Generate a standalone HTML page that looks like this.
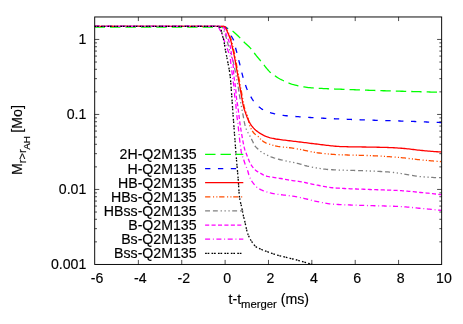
<!DOCTYPE html>
<html><head><meta charset="utf-8"><title>plot</title>
<style>html,body{margin:0;padding:0;background:#fff}svg{display:block}text{filter:grayscale(1);stroke:#000;stroke-width:0.16px;font-family:"Liberation Sans",Arial,Helvetica,sans-serif;fill:#000}</style></head><body>
<svg width="463" height="324" viewBox="0 0 463 324">
<rect width="463" height="324" fill="#fff"/>
<defs><clipPath id="c"><rect x="94.7" y="16.87" width="346.95" height="247.58"/></clipPath></defs>
<g fill="none" stroke-width="1.3" clip-path="url(#c)">
<path d="M94.60,27.20 L96.10,27.20 L97.59,27.20 L99.09,27.20 L100.59,27.20 L102.08,27.20 L103.58,27.20 L105.08,27.20 L106.58,27.20 L108.07,27.20 L109.57,27.20 L111.07,27.20 L112.56,27.20 L114.06,27.20 L115.56,27.20 L117.05,27.20 L118.55,27.20 L120.05,27.20 L121.55,27.20 L123.04,27.20 L124.54,27.20 L126.04,27.20 L127.53,27.20 L129.03,27.20 L130.53,27.20 L132.02,27.20 L133.52,27.20 L135.02,27.20 L136.52,27.20 L138.01,27.20 L139.51,27.20 L141.01,27.20 L142.50,27.20 L144.00,27.20 L145.50,27.20 L146.99,27.20 L148.49,27.20 L149.99,27.20 L151.49,27.20 L152.98,27.20 L154.48,27.20 L155.98,27.20 L157.47,27.20 L158.97,27.20 L160.47,27.20 L161.96,27.20 L163.46,27.20 L164.96,27.20 L166.46,27.20 L167.95,27.20 L169.45,27.20 L170.95,27.20 L172.44,27.20 L173.94,27.20 L175.44,27.20 L176.94,27.20 L178.43,27.20 L179.93,27.20 L181.43,27.20 L182.93,27.20 L184.42,27.20 L185.92,27.20 L187.42,27.20 L188.92,27.20 L190.41,27.20 L191.91,27.20 L193.41,27.20 L194.90,27.20 L196.40,27.20 L197.90,27.20 L199.40,27.20 L200.89,27.20 L202.39,27.20 L203.89,27.20 L205.38,27.20 L206.88,27.20 L208.38,27.20 L209.87,27.20 L211.37,27.20 L212.87,27.20 L214.36,27.20 L215.86,27.20 L217.36,27.20 L218.85,27.20 L220.35,27.20 L221.85,27.21 L223.35,27.27 L224.84,27.38 L226.27,27.76 L227.66,28.35 L229.02,28.98 L230.34,29.69 L231.62,30.48 L232.84,31.33 L234.01,32.25 L235.14,33.22 L236.25,34.24 L237.33,35.28 L238.41,36.33 L239.48,37.39 L240.54,38.44 L241.59,39.51 L242.63,40.59 L243.67,41.66 L244.73,42.72 L245.82,43.75 L246.93,44.77 L248.04,45.79 L249.13,46.82 L250.19,47.87 L251.20,48.96 L252.15,50.10 L253.03,51.31 L253.89,52.54 L254.79,53.74 L255.71,54.92 L256.65,56.08 L257.60,57.24 L258.56,58.40 L259.52,59.54 L260.48,60.69 L261.45,61.84 L262.40,62.99 L263.35,64.16 L264.28,65.35 L265.21,66.54 L266.14,67.73 L267.10,68.90 L268.07,70.03 L269.08,71.12 L270.13,72.16 L271.23,73.13 L272.41,74.04 L273.64,74.92 L274.89,75.76 L276.14,76.59 L277.39,77.42 L278.66,78.23 L279.95,78.97 L281.28,79.65 L282.64,80.28 L284.02,80.88 L285.39,81.48 L286.76,82.09 L288.14,82.70 L289.53,83.29 L290.93,83.84 L292.33,84.33 L293.75,84.74 L295.19,85.11 L296.64,85.47 L298.10,85.80 L299.56,86.12 L301.04,86.42 L302.52,86.70 L304.01,86.95 L305.49,87.18 L306.98,87.38 L308.47,87.55 L309.95,87.69 L311.44,87.82 L312.93,87.93 L314.42,88.04 L315.91,88.13 L317.41,88.22 L318.91,88.31 L320.41,88.39 L321.90,88.46 L323.40,88.54 L324.90,88.61 L326.39,88.68 L327.89,88.74 L329.38,88.81 L330.88,88.86 L332.37,88.92 L333.87,88.98 L335.37,89.03 L336.86,89.08 L338.36,89.14 L339.85,89.19 L341.35,89.25 L342.85,89.31 L344.34,89.37 L345.84,89.43 L347.33,89.48 L348.83,89.54 L350.32,89.60 L351.82,89.66 L353.32,89.72 L354.81,89.77 L356.31,89.83 L357.80,89.89 L359.30,89.94 L360.80,90.00 L362.29,90.05 L363.79,90.11 L365.28,90.16 L366.78,90.21 L368.28,90.26 L369.77,90.31 L371.27,90.36 L372.76,90.41 L374.26,90.46 L375.76,90.50 L377.25,90.55 L378.75,90.59 L380.25,90.64 L381.74,90.68 L383.24,90.73 L384.74,90.77 L386.23,90.81 L387.73,90.86 L389.22,90.90 L390.72,90.94 L392.22,90.98 L393.71,91.02 L395.21,91.07 L396.71,91.11 L398.20,91.15 L399.70,91.19 L401.20,91.23 L402.69,91.27 L404.19,91.32 L405.68,91.36 L407.18,91.40 L408.68,91.44 L410.17,91.48 L411.67,91.52 L413.17,91.56 L414.66,91.60 L416.16,91.64 L417.66,91.68 L419.15,91.72 L420.65,91.76 L422.15,91.80 L423.64,91.84 L425.14,91.88 L426.63,91.92 L428.13,91.96 L429.63,92.00 L431.12,92.04 L432.62,92.07 L434.12,92.11 L435.61,92.15 L437.11,92.19 L438.61,92.23 L440.10,92.26 L441.60,92.30" stroke="#00ff00" stroke-dasharray="10.40,5.03"/>
<path d="M94.60,26.30 L96.09,26.30 L97.59,26.30 L99.08,26.30 L100.58,26.30 L102.07,26.30 L103.57,26.30 L105.06,26.30 L106.56,26.30 L108.05,26.30 L109.55,26.30 L111.04,26.30 L112.53,26.30 L114.03,26.30 L115.52,26.30 L117.02,26.30 L118.51,26.30 L120.01,26.30 L121.50,26.30 L123.00,26.30 L124.49,26.30 L125.98,26.30 L127.48,26.30 L128.97,26.30 L130.47,26.30 L131.96,26.30 L133.46,26.30 L134.95,26.30 L136.45,26.30 L137.94,26.30 L139.44,26.30 L140.93,26.30 L142.42,26.30 L143.92,26.30 L145.41,26.30 L146.91,26.30 L148.40,26.30 L149.90,26.30 L151.39,26.30 L152.89,26.30 L154.38,26.30 L155.87,26.30 L157.37,26.30 L158.86,26.30 L160.36,26.30 L161.85,26.30 L163.35,26.30 L164.85,26.30 L166.34,26.30 L167.84,26.30 L169.34,26.30 L170.84,26.30 L172.34,26.30 L173.84,26.30 L175.34,26.30 L176.84,26.30 L178.34,26.30 L179.84,26.30 L181.34,26.30 L182.84,26.30 L184.34,26.30 L185.84,26.30 L187.34,26.30 L188.84,26.30 L190.33,26.30 L191.83,26.30 L193.33,26.30 L194.83,26.30 L196.33,26.30 L197.82,26.30 L199.32,26.30 L200.82,26.30 L202.31,26.30 L203.81,26.30 L205.30,26.30 L206.79,26.30 L208.28,26.30 L209.77,26.30 L211.26,26.30 L212.75,26.30 L214.24,26.30 L215.72,26.30 L217.21,26.30 L218.69,26.30 L220.17,26.30 L221.65,26.30 L223.13,26.30 L224.61,26.54 L225.89,27.30 L226.85,28.44 L227.66,29.69 L228.40,31.00 L229.10,32.31 L229.81,33.63 L230.57,34.92 L231.36,36.19 L232.12,37.48 L232.89,38.78 L233.55,40.11 L234.02,41.50 L234.39,42.94 L234.71,44.41 L235.03,45.89 L235.39,47.34 L235.78,48.78 L236.19,50.22 L236.60,51.66 L236.99,53.10 L237.37,54.55 L237.74,55.99 L238.10,57.44 L238.46,58.90 L238.81,60.35 L239.17,61.80 L239.53,63.25 L239.88,64.70 L240.23,66.16 L240.58,67.61 L240.93,69.07 L241.28,70.52 L241.64,71.97 L242.01,73.42 L242.39,74.86 L242.78,76.30 L243.19,77.74 L243.61,79.17 L244.04,80.61 L244.48,82.03 L244.94,83.46 L245.42,84.87 L245.91,86.29 L246.42,87.69 L246.96,89.09 L247.54,90.46 L248.17,91.81 L248.84,93.15 L249.55,94.47 L250.29,95.77 L251.04,97.06 L251.80,98.35 L252.60,99.62 L253.43,100.86 L254.33,102.05 L255.29,103.20 L256.30,104.30 L257.36,105.36 L258.45,106.38 L259.58,107.37 L260.77,108.29 L261.99,109.12 L263.28,109.88 L264.62,110.58 L265.98,111.19 L267.36,111.73 L268.78,112.21 L270.22,112.65 L271.66,113.06 L273.10,113.46 L274.55,113.84 L276.00,114.19 L277.46,114.50 L278.93,114.76 L280.40,115.01 L281.88,115.23 L283.37,115.43 L284.85,115.61 L286.34,115.77 L287.82,115.91 L289.31,116.05 L290.80,116.17 L292.29,116.29 L293.78,116.40 L295.27,116.51 L296.76,116.62 L298.25,116.72 L299.75,116.82 L301.24,116.93 L302.73,117.03 L304.22,117.12 L305.71,117.22 L307.20,117.32 L308.69,117.41 L310.18,117.50 L311.68,117.59 L313.17,117.68 L314.66,117.77 L316.15,117.85 L317.65,117.93 L319.14,118.01 L320.63,118.09 L322.12,118.17 L323.62,118.25 L325.11,118.32 L326.60,118.39 L328.09,118.46 L329.59,118.53 L331.08,118.60 L332.57,118.67 L334.06,118.74 L335.56,118.81 L337.05,118.87 L338.54,118.94 L340.04,119.00 L341.53,119.06 L343.02,119.12 L344.52,119.18 L346.01,119.25 L347.50,119.30 L349.00,119.36 L350.49,119.42 L351.98,119.48 L353.48,119.53 L354.97,119.59 L356.46,119.65 L357.96,119.70 L359.45,119.75 L360.95,119.81 L362.44,119.86 L363.93,119.91 L365.43,119.96 L366.92,120.01 L368.41,120.06 L369.91,120.11 L371.40,120.15 L372.89,120.20 L374.39,120.24 L375.88,120.29 L377.38,120.33 L378.87,120.37 L380.36,120.41 L381.86,120.46 L383.35,120.50 L384.85,120.54 L386.34,120.58 L387.83,120.63 L389.33,120.67 L390.82,120.71 L392.32,120.76 L393.81,120.80 L395.30,120.85 L396.80,120.89 L398.29,120.94 L399.78,120.99 L401.28,121.04 L402.77,121.09 L404.27,121.15 L405.76,121.20 L407.25,121.25 L408.75,121.30 L410.24,121.36 L411.73,121.41 L413.23,121.47 L414.72,121.52 L416.21,121.58 L417.71,121.63 L419.20,121.69 L420.69,121.75 L422.19,121.81 L423.68,121.86 L425.17,121.92 L426.67,121.98 L428.16,122.04 L429.65,122.10 L431.15,122.16 L432.64,122.22 L434.13,122.29 L435.63,122.35 L437.12,122.41 L438.61,122.47 L440.11,122.54 L441.60,122.60" stroke="#0000ff" stroke-dasharray="5.30,7.56"/>
<path d="M94.60,26.30 L96.10,26.30 L97.60,26.30 L99.09,26.30 L100.59,26.30 L102.09,26.30 L103.59,26.30 L105.08,26.30 L106.58,26.30 L108.08,26.30 L109.58,26.30 L111.08,26.30 L112.57,26.30 L114.07,26.30 L115.57,26.30 L117.07,26.30 L118.56,26.30 L120.06,26.30 L121.56,26.30 L123.06,26.30 L124.56,26.30 L126.05,26.30 L127.55,26.30 L129.05,26.30 L130.55,26.30 L132.05,26.30 L133.54,26.30 L135.04,26.30 L136.54,26.30 L138.04,26.30 L139.53,26.30 L141.03,26.30 L142.53,26.30 L144.03,26.30 L145.53,26.30 L147.02,26.30 L148.52,26.30 L150.02,26.30 L151.52,26.30 L153.01,26.30 L154.51,26.30 L156.01,26.30 L157.51,26.30 L159.01,26.30 L160.50,26.30 L162.00,26.30 L163.50,26.30 L165.00,26.30 L166.50,26.30 L168.00,26.30 L169.50,26.30 L171.00,26.30 L172.50,26.30 L174.00,26.30 L175.50,26.30 L177.00,26.30 L178.50,26.30 L180.00,26.30 L181.50,26.30 L183.00,26.30 L184.50,26.30 L186.00,26.30 L187.50,26.30 L189.00,26.30 L190.50,26.30 L192.00,26.30 L193.50,26.30 L195.00,26.30 L196.50,26.30 L197.99,26.30 L199.49,26.30 L200.99,26.30 L202.49,26.30 L203.99,26.30 L205.48,26.30 L206.98,26.30 L208.48,26.30 L209.97,26.30 L211.47,26.30 L212.96,26.30 L214.46,26.30 L215.95,26.30 L217.44,26.30 L218.93,26.30 L220.43,26.30 L221.92,26.30 L223.43,26.35 L224.89,26.60 L226.06,27.49 L226.81,28.81 L227.40,30.19 L227.96,31.58 L228.56,32.95 L229.15,34.33 L229.73,35.71 L230.27,37.11 L230.79,38.51 L231.28,39.93 L231.70,41.37 L232.07,42.81 L232.40,44.28 L232.71,45.74 L233.02,47.21 L233.35,48.67 L233.69,50.13 L234.04,51.59 L234.37,53.05 L234.69,54.51 L235.00,55.98 L235.28,57.45 L235.55,58.92 L235.81,60.40 L236.06,61.87 L236.32,63.35 L236.58,64.82 L236.84,66.30 L237.11,67.77 L237.38,69.25 L237.64,70.72 L237.91,72.19 L238.18,73.67 L238.44,75.14 L238.71,76.62 L238.98,78.09 L239.24,79.56 L239.51,81.04 L239.78,82.51 L240.04,83.99 L240.31,85.46 L240.58,86.93 L240.84,88.41 L241.11,89.88 L241.38,91.36 L241.64,92.83 L241.91,94.30 L242.18,95.78 L242.45,97.25 L242.70,98.73 L242.95,100.21 L243.20,101.69 L243.46,103.17 L243.75,104.64 L244.06,106.10 L244.42,107.54 L244.85,108.97 L245.33,110.40 L245.83,111.81 L246.33,113.23 L246.90,114.62 L247.47,116.02 L247.95,117.43 L248.27,118.88 L248.49,120.36 L248.70,121.85 L249.00,123.31 L249.42,124.75 L249.94,126.16 L250.51,127.55 L251.12,128.92 L251.84,130.24 L252.64,131.50 L253.56,132.70 L254.59,133.76 L255.78,134.66 L257.03,135.53 L258.18,136.47 L259.21,137.57 L260.20,138.70 L261.27,139.74 L262.41,140.73 L263.62,141.65 L264.87,142.43 L266.20,143.06 L267.58,143.62 L269.02,144.12 L270.47,144.57 L271.91,144.98 L273.36,145.35 L274.81,145.71 L276.28,146.04 L277.75,146.34 L279.23,146.60 L280.71,146.83 L282.19,147.01 L283.68,147.17 L285.17,147.31 L286.66,147.45 L288.16,147.59 L289.65,147.76 L291.13,147.95 L292.61,148.16 L294.09,148.39 L295.57,148.63 L297.05,148.88 L298.53,149.14 L300.00,149.40 L301.47,149.67 L302.94,149.97 L304.41,150.29 L305.87,150.61 L307.34,150.94 L308.80,151.27 L310.27,151.59 L311.74,151.89 L313.21,152.16 L314.68,152.41 L316.16,152.62 L317.64,152.81 L319.12,153.00 L320.61,153.18 L322.10,153.35 L323.59,153.52 L325.08,153.68 L326.57,153.83 L328.06,153.97 L329.56,154.11 L331.05,154.23 L332.55,154.35 L334.04,154.45 L335.54,154.55 L337.03,154.63 L338.53,154.71 L340.02,154.77 L341.52,154.83 L343.01,154.88 L344.51,154.93 L346.01,154.97 L347.50,155.01 L349.00,155.05 L350.50,155.09 L352.00,155.12 L353.50,155.16 L354.99,155.19 L356.49,155.22 L357.99,155.25 L359.49,155.29 L360.99,155.32 L362.48,155.36 L363.98,155.40 L365.48,155.44 L366.98,155.49 L368.47,155.54 L369.97,155.60 L371.47,155.66 L372.96,155.73 L374.46,155.80 L375.95,155.87 L377.45,155.95 L378.95,156.03 L380.44,156.12 L381.94,156.21 L383.43,156.31 L384.93,156.40 L386.42,156.50 L387.92,156.61 L389.41,156.71 L390.91,156.82 L392.40,156.94 L393.89,157.05 L395.39,157.17 L396.88,157.29 L398.37,157.41 L399.86,157.53 L401.35,157.66 L402.84,157.81 L404.33,157.97 L405.82,158.13 L407.31,158.30 L408.80,158.48 L410.29,158.66 L411.77,158.84 L413.26,159.03 L414.75,159.21 L416.24,159.38 L417.72,159.55 L419.21,159.72 L420.70,159.87 L422.19,160.02 L423.68,160.16 L425.18,160.29 L426.67,160.43 L428.16,160.56 L429.65,160.68 L431.14,160.81 L432.64,160.93 L434.13,161.05 L435.62,161.17 L437.12,161.28 L438.61,161.39 L440.11,161.50 L441.60,161.60" stroke="#ff4d00" stroke-dasharray="5.30,2.60,1.10,2.20,1.10,1.75"/>
<path d="M94.60,26.30 L96.10,26.30 L97.59,26.30 L99.09,26.30 L100.59,26.30 L102.08,26.30 L103.58,26.30 L105.08,26.30 L106.57,26.30 L108.07,26.30 L109.57,26.30 L111.06,26.30 L112.56,26.30 L114.06,26.30 L115.55,26.30 L117.05,26.30 L118.55,26.30 L120.05,26.30 L121.54,26.30 L123.04,26.30 L124.54,26.30 L126.03,26.30 L127.53,26.30 L129.03,26.30 L130.52,26.30 L132.02,26.30 L133.52,26.30 L135.01,26.30 L136.51,26.30 L138.01,26.30 L139.50,26.30 L141.00,26.30 L142.50,26.30 L143.99,26.30 L145.49,26.30 L146.99,26.30 L148.48,26.30 L149.98,26.30 L151.48,26.30 L152.97,26.30 L154.47,26.30 L155.97,26.30 L157.46,26.30 L158.96,26.30 L160.46,26.30 L161.96,26.30 L163.45,26.30 L164.95,26.30 L166.45,26.30 L167.95,26.30 L169.45,26.30 L170.95,26.30 L172.45,26.30 L173.95,26.30 L175.45,26.30 L176.96,26.30 L178.46,26.30 L179.96,26.30 L181.46,26.30 L182.96,26.30 L184.46,26.30 L185.97,26.30 L187.47,26.30 L188.97,26.30 L190.47,26.30 L191.97,26.30 L193.47,26.30 L194.97,26.30 L196.47,26.30 L197.97,26.30 L199.47,26.30 L200.96,26.30 L202.46,26.30 L203.96,26.30 L205.45,26.30 L206.95,26.30 L208.44,26.30 L209.93,26.30 L211.42,26.30 L212.91,26.30 L214.40,26.30 L215.89,26.30 L217.38,26.30 L218.86,26.30 L220.35,26.30 L221.83,26.30 L223.33,26.38 L224.72,26.88 L225.69,28.00 L226.36,29.36 L226.92,30.75 L227.50,32.13 L228.10,33.50 L228.69,34.88 L229.25,36.26 L229.78,37.66 L230.29,39.07 L230.75,40.50 L231.15,41.93 L231.50,43.39 L231.82,44.85 L232.13,46.32 L232.45,47.78 L232.79,49.24 L233.13,50.70 L233.47,52.16 L233.80,53.62 L234.11,55.08 L234.41,56.55 L234.68,58.02 L234.95,59.49 L235.21,60.96 L235.46,62.44 L235.72,63.92 L235.98,65.39 L236.25,66.86 L236.51,68.34 L236.78,69.81 L237.05,71.28 L237.31,72.75 L237.58,74.23 L237.85,75.70 L238.11,77.17 L238.38,78.65 L238.65,80.12 L238.91,81.59 L239.18,83.06 L239.44,84.54 L239.71,86.01 L239.98,87.48 L240.24,88.96 L240.51,90.43 L240.77,91.90 L241.04,93.37 L241.31,94.85 L241.58,96.32 L241.84,97.79 L242.10,99.27 L242.34,100.75 L242.60,102.23 L242.86,103.70 L243.16,105.17 L243.48,106.62 L243.87,108.06 L244.32,109.49 L244.81,110.91 L245.30,112.32 L245.79,113.74 L246.29,115.15 L246.82,116.56 L247.38,117.94 L247.98,119.31 L248.62,120.67 L249.31,122.00 L250.06,123.29 L250.86,124.55 L251.73,125.79 L252.66,126.98 L253.63,128.11 L254.66,129.17 L255.78,130.17 L256.96,131.12 L258.16,132.01 L259.38,132.87 L260.65,133.68 L261.95,134.44 L263.26,135.13 L264.61,135.79 L265.98,136.41 L267.38,136.96 L268.79,137.42 L270.23,137.81 L271.69,138.16 L273.16,138.47 L274.64,138.76 L276.11,139.02 L277.59,139.26 L279.07,139.47 L280.55,139.67 L282.04,139.86 L283.52,140.04 L285.01,140.23 L286.49,140.41 L287.98,140.59 L289.47,140.77 L290.95,140.95 L292.44,141.12 L293.93,141.29 L295.41,141.46 L296.90,141.63 L298.39,141.81 L299.87,141.98 L301.36,142.17 L302.84,142.35 L304.33,142.54 L305.81,142.73 L307.30,142.93 L308.78,143.12 L310.27,143.31 L311.75,143.49 L313.24,143.68 L314.72,143.85 L316.21,144.02 L317.70,144.20 L319.19,144.37 L320.67,144.56 L322.16,144.74 L323.65,144.93 L325.14,145.11 L326.62,145.30 L328.11,145.47 L329.60,145.65 L331.09,145.81 L332.58,145.96 L334.07,146.11 L335.56,146.24 L337.05,146.35 L338.54,146.45 L340.04,146.53 L341.53,146.59 L343.02,146.64 L344.51,146.68 L346.01,146.71 L347.50,146.75 L349.00,146.78 L350.50,146.81 L351.99,146.83 L353.49,146.85 L354.99,146.88 L356.48,146.90 L357.98,146.92 L359.48,146.94 L360.98,146.96 L362.47,146.98 L363.97,147.00 L365.47,147.02 L366.97,147.05 L368.46,147.07 L369.96,147.10 L371.46,147.13 L372.95,147.15 L374.45,147.18 L375.95,147.20 L377.44,147.23 L378.94,147.26 L380.44,147.29 L381.93,147.32 L383.43,147.36 L384.93,147.40 L386.42,147.44 L387.92,147.50 L389.41,147.55 L390.91,147.62 L392.41,147.69 L393.90,147.77 L395.40,147.85 L396.89,147.94 L398.38,148.03 L399.88,148.13 L401.37,148.24 L402.86,148.37 L404.35,148.51 L405.84,148.66 L407.33,148.82 L408.82,148.97 L410.30,149.13 L411.79,149.30 L413.28,149.48 L414.76,149.66 L416.25,149.85 L417.74,150.03 L419.22,150.21 L420.71,150.37 L422.20,150.52 L423.69,150.66 L425.18,150.79 L426.67,150.93 L428.16,151.05 L429.65,151.18 L431.14,151.30 L432.63,151.42 L434.13,151.53 L435.62,151.64 L437.11,151.74 L438.61,151.83 L440.10,151.92 L441.60,152.00" stroke="#ff0000"/>
<path d="M94.60,26.30 L96.10,26.30 L97.60,26.30 L99.10,26.30 L100.60,26.30 L102.10,26.30 L103.60,26.30 L105.10,26.30 L106.60,26.30 L108.10,26.30 L109.60,26.30 L111.10,26.30 L112.60,26.30 L114.10,26.30 L115.60,26.30 L117.10,26.30 L118.59,26.30 L120.09,26.30 L121.59,26.30 L123.09,26.30 L124.59,26.30 L126.09,26.30 L127.59,26.30 L129.09,26.30 L130.59,26.30 L132.09,26.30 L133.59,26.30 L135.09,26.30 L136.59,26.30 L138.09,26.30 L139.59,26.30 L141.09,26.30 L142.59,26.30 L144.09,26.30 L145.59,26.30 L147.09,26.30 L148.59,26.30 L150.09,26.30 L151.59,26.30 L153.09,26.30 L154.59,26.30 L156.09,26.30 L157.59,26.30 L159.09,26.30 L160.59,26.30 L162.09,26.30 L163.59,26.30 L165.09,26.30 L166.59,26.30 L168.09,26.30 L169.59,26.30 L171.10,26.30 L172.60,26.30 L174.10,26.30 L175.60,26.30 L177.11,26.30 L178.61,26.30 L180.11,26.30 L181.62,26.30 L183.12,26.30 L184.62,26.30 L186.13,26.30 L187.63,26.30 L189.13,26.30 L190.63,26.30 L192.14,26.30 L193.64,26.30 L195.14,26.30 L196.64,26.30 L198.14,26.30 L199.64,26.30 L201.14,26.30 L202.64,26.30 L204.14,26.30 L205.64,26.30 L207.13,26.30 L208.63,26.30 L210.12,26.30 L211.62,26.30 L213.11,26.30 L214.60,26.30 L216.10,26.30 L217.59,26.30 L219.08,26.30 L220.60,26.40 L221.96,26.85 L222.93,28.02 L223.49,29.40 L223.95,30.87 L224.45,32.28 L224.94,33.70 L225.41,35.13 L225.88,36.55 L226.34,37.98 L226.76,39.42 L227.09,40.88 L227.44,42.34 L227.84,43.78 L228.27,45.22 L228.67,46.67 L229.03,48.12 L229.39,49.58 L229.79,51.02 L230.20,52.47 L230.63,53.90 L231.07,55.34 L231.52,56.77 L232.02,58.18 L232.54,59.59 L233.00,61.02 L233.39,62.46 L233.73,63.92 L234.05,65.39 L234.36,66.86 L234.67,68.33 L234.98,69.79 L235.28,71.26 L235.57,72.74 L235.86,74.21 L236.14,75.68 L236.42,77.15 L236.69,78.63 L236.96,80.10 L237.22,81.58 L237.49,83.06 L237.75,84.53 L238.01,86.01 L238.26,87.49 L238.51,88.97 L238.74,90.45 L238.96,91.93 L239.19,93.41 L239.42,94.90 L239.66,96.38 L239.91,97.85 L240.17,99.33 L240.43,100.81 L240.69,102.29 L240.95,103.76 L241.20,105.24 L241.45,106.72 L241.70,108.20 L241.97,109.67 L242.26,111.15 L242.56,112.62 L242.86,114.08 L243.15,115.56 L243.42,117.03 L243.67,118.51 L243.92,119.99 L244.19,121.47 L244.49,122.93 L244.83,124.40 L245.20,125.85 L245.63,127.30 L246.10,128.71 L246.68,130.09 L247.35,131.44 L248.05,132.76 L248.83,134.04 L249.61,135.33 L250.30,136.66 L250.96,138.01 L251.64,139.35 L252.34,140.67 L252.97,142.04 L253.56,143.45 L254.19,144.80 L254.98,146.02 L255.98,147.13 L257.10,148.17 L258.21,149.19 L259.31,150.22 L260.45,151.21 L261.64,152.10 L262.90,152.90 L264.20,153.65 L265.54,154.35 L266.90,155.00 L268.26,155.62 L269.64,156.20 L271.03,156.77 L272.44,157.30 L273.86,157.81 L275.29,158.28 L276.72,158.72 L278.15,159.12 L279.60,159.50 L281.06,159.85 L282.52,160.18 L283.99,160.51 L285.46,160.82 L286.93,161.13 L288.40,161.45 L289.86,161.77 L291.33,162.09 L292.79,162.40 L294.26,162.71 L295.73,163.02 L297.20,163.34 L298.66,163.67 L300.11,164.03 L301.56,164.43 L303.00,164.88 L304.43,165.33 L305.87,165.75 L307.32,166.10 L308.78,166.41 L310.25,166.72 L311.71,167.02 L313.19,167.31 L314.67,167.60 L316.15,167.87 L317.63,168.13 L319.12,168.38 L320.60,168.61 L322.09,168.83 L323.58,169.02 L325.07,169.20 L326.56,169.35 L328.05,169.48 L329.54,169.59 L331.03,169.68 L332.53,169.76 L334.02,169.84 L335.51,169.90 L337.01,169.97 L338.50,170.03 L340.00,170.09 L341.50,170.14 L343.00,170.19 L344.50,170.23 L346.00,170.28 L347.50,170.32 L349.00,170.36 L350.50,170.40 L352.00,170.44 L353.50,170.47 L355.00,170.51 L356.51,170.55 L358.01,170.59 L359.51,170.63 L361.01,170.68 L362.51,170.72 L364.01,170.77 L365.51,170.82 L367.01,170.88 L368.51,170.94 L370.01,171.00 L371.51,171.07 L373.01,171.13 L374.51,171.20 L376.01,171.27 L377.51,171.34 L379.00,171.42 L380.50,171.50 L382.00,171.58 L383.50,171.67 L385.00,171.76 L386.49,171.86 L387.99,171.97 L389.48,172.08 L390.97,172.20 L392.46,172.33 L393.95,172.50 L395.43,172.68 L396.92,172.89 L398.40,173.11 L399.89,173.34 L401.37,173.59 L402.85,173.83 L404.33,174.08 L405.81,174.33 L407.29,174.58 L408.78,174.81 L410.26,175.04 L411.74,175.28 L413.22,175.53 L414.70,175.79 L416.18,176.04 L417.67,176.28 L419.15,176.50 L420.64,176.68 L422.12,176.81 L423.61,176.92 L425.11,177.02 L426.60,177.12 L428.09,177.22 L429.59,177.31 L431.09,177.39 L432.58,177.47 L434.08,177.54 L435.58,177.59 L437.08,177.64 L438.59,177.67 L440.09,177.69 L441.60,177.70" stroke="#808080" stroke-dasharray="4.90,2.90,4.90,2.80,1.30,2.60,1.30,2.60,1.30,2.50"/>
<path d="M94.60,26.30 L96.10,26.30 L97.60,26.30 L99.10,26.30 L100.60,26.30 L102.09,26.30 L103.59,26.30 L105.09,26.30 L106.59,26.30 L108.09,26.30 L109.59,26.30 L111.09,26.30 L112.59,26.30 L114.09,26.30 L115.59,26.30 L117.08,26.30 L118.58,26.30 L120.08,26.30 L121.58,26.30 L123.08,26.30 L124.58,26.30 L126.08,26.30 L127.58,26.30 L129.08,26.30 L130.57,26.30 L132.07,26.30 L133.57,26.30 L135.07,26.30 L136.57,26.30 L138.07,26.30 L139.57,26.30 L141.07,26.30 L142.57,26.30 L144.07,26.30 L145.56,26.30 L147.06,26.30 L148.56,26.30 L150.06,26.30 L151.56,26.30 L153.06,26.30 L154.56,26.30 L156.06,26.30 L157.56,26.30 L159.06,26.30 L160.55,26.30 L162.05,26.30 L163.56,26.30 L165.06,26.30 L166.56,26.30 L168.07,26.30 L169.57,26.30 L171.08,26.30 L172.58,26.30 L174.09,26.30 L175.60,26.30 L177.10,26.30 L178.61,26.30 L180.12,26.30 L181.63,26.30 L183.13,26.30 L184.64,26.30 L186.15,26.30 L187.66,26.30 L189.16,26.30 L190.67,26.30 L192.17,26.30 L193.68,26.30 L195.18,26.30 L196.68,26.30 L198.19,26.30 L199.69,26.30 L201.19,26.30 L202.68,26.30 L204.18,26.30 L205.67,26.30 L207.17,26.30 L208.66,26.30 L210.15,26.30 L211.64,26.30 L213.12,26.30 L214.61,26.30 L216.09,26.30 L217.57,26.30 L219.05,26.30 L220.52,26.30 L222.01,26.46 L223.35,27.12 L224.17,28.32 L224.71,29.76 L225.22,31.17 L225.68,32.60 L226.13,34.03 L226.54,35.48 L227.00,36.90 L227.67,38.24 L228.33,39.59 L228.84,40.99 L229.28,42.43 L229.69,43.87 L230.05,45.33 L230.35,46.80 L230.60,48.27 L230.84,49.75 L231.06,51.24 L231.28,52.72 L231.50,54.20 L231.76,55.68 L232.08,57.15 L232.39,58.62 L232.67,60.09 L232.86,61.57 L233.00,63.06 L233.12,64.56 L233.23,66.05 L233.34,67.55 L233.44,69.04 L233.52,70.54 L233.61,72.04 L233.70,73.54 L233.82,75.03 L233.95,76.52 L234.15,78.01 L234.37,79.49 L234.60,80.97 L234.81,82.46 L235.04,83.94 L235.26,85.42 L235.47,86.90 L235.64,88.39 L235.79,89.88 L235.92,91.38 L236.04,92.87 L236.18,94.37 L236.30,95.86 L236.43,97.36 L236.57,98.85 L236.74,100.33 L237.00,101.81 L237.30,103.28 L237.59,104.75 L237.82,106.23 L238.02,107.72 L238.20,109.20 L238.38,110.69 L238.56,112.18 L238.75,113.67 L238.94,115.16 L239.13,116.64 L239.32,118.13 L239.49,119.62 L239.66,121.11 L239.85,122.60 L240.05,124.08 L240.27,125.56 L240.50,127.04 L240.74,128.52 L240.98,130.00 L241.22,131.48 L241.47,132.96 L241.72,134.44 L241.97,135.92 L242.24,137.39 L242.50,138.87 L242.78,140.34 L243.06,141.81 L243.35,143.29 L243.64,144.76 L243.94,146.23 L244.27,147.70 L244.64,149.14 L245.09,150.56 L245.62,151.96 L246.18,153.36 L246.72,154.76 L247.25,156.17 L247.78,157.57 L248.33,158.96 L248.88,160.36 L249.47,161.74 L250.13,163.08 L250.86,164.41 L251.64,165.68 L252.51,166.89 L253.46,168.06 L254.50,169.19 L255.59,170.22 L256.74,171.12 L258.01,171.90 L259.34,172.62 L260.68,173.32 L261.98,174.09 L263.28,174.90 L264.61,175.56 L266.00,175.99 L267.44,176.33 L268.92,176.62 L270.42,176.87 L271.92,177.12 L273.40,177.37 L274.88,177.61 L276.36,177.84 L277.84,178.06 L279.33,178.28 L280.81,178.50 L282.29,178.75 L283.76,179.02 L285.23,179.31 L286.70,179.60 L288.18,179.88 L289.65,180.14 L291.13,180.37 L292.62,180.58 L294.10,180.78 L295.59,180.97 L297.08,181.17 L298.56,181.38 L300.04,181.61 L301.52,181.86 L302.99,182.14 L304.46,182.44 L305.92,182.75 L307.39,183.07 L308.85,183.39 L310.32,183.72 L311.78,184.04 L313.25,184.35 L314.72,184.65 L316.19,184.94 L317.66,185.22 L319.14,185.51 L320.61,185.81 L322.09,186.11 L323.56,186.40 L325.04,186.68 L326.51,186.95 L327.99,187.19 L329.47,187.41 L330.96,187.60 L332.44,187.75 L333.93,187.87 L335.42,187.98 L336.91,188.08 L338.40,188.18 L339.89,188.27 L341.38,188.35 L342.88,188.43 L344.38,188.51 L345.87,188.58 L347.37,188.65 L348.87,188.71 L350.37,188.78 L351.87,188.83 L353.37,188.89 L354.87,188.95 L356.37,189.00 L357.87,189.06 L359.37,189.11 L360.87,189.16 L362.37,189.21 L363.88,189.27 L365.38,189.32 L366.87,189.38 L368.37,189.43 L369.87,189.49 L371.37,189.55 L372.87,189.61 L374.37,189.67 L375.86,189.72 L377.36,189.77 L378.86,189.82 L380.36,189.86 L381.86,189.91 L383.36,189.96 L384.86,190.01 L386.35,190.06 L387.85,190.11 L389.35,190.16 L390.85,190.21 L392.35,190.27 L393.84,190.33 L395.34,190.40 L396.84,190.47 L398.33,190.54 L399.83,190.62 L401.32,190.71 L402.82,190.81 L404.31,190.92 L405.81,191.03 L407.30,191.16 L408.79,191.29 L410.29,191.43 L411.78,191.58 L413.27,191.72 L414.77,191.87 L416.26,192.02 L417.75,192.18 L419.24,192.33 L420.73,192.48 L422.22,192.62 L423.72,192.77 L425.21,192.92 L426.70,193.07 L428.19,193.22 L429.68,193.38 L431.17,193.54 L432.66,193.70 L434.15,193.86 L435.64,194.02 L437.13,194.19 L438.62,194.36 L440.11,194.53 L441.60,194.70" stroke="#ff00ff" stroke-dasharray="4.10,2.33"/>
<path d="M94.60,26.30 L96.10,26.30 L97.60,26.30 L99.10,26.30 L100.59,26.30 L102.09,26.30 L103.59,26.30 L105.09,26.30 L106.59,26.30 L108.09,26.30 L109.59,26.30 L111.08,26.30 L112.58,26.30 L114.08,26.30 L115.58,26.30 L117.08,26.30 L118.58,26.30 L120.08,26.30 L121.57,26.30 L123.07,26.30 L124.57,26.30 L126.07,26.30 L127.57,26.30 L129.07,26.30 L130.57,26.30 L132.06,26.30 L133.56,26.30 L135.06,26.30 L136.56,26.30 L138.06,26.30 L139.56,26.30 L141.06,26.30 L142.55,26.30 L144.05,26.30 L145.55,26.30 L147.05,26.30 L148.55,26.30 L150.05,26.30 L151.55,26.30 L153.04,26.30 L154.54,26.30 L156.04,26.30 L157.54,26.30 L159.04,26.30 L160.54,26.30 L162.04,26.30 L163.54,26.30 L165.04,26.30 L166.54,26.30 L168.05,26.30 L169.55,26.30 L171.06,26.30 L172.57,26.30 L174.08,26.30 L175.58,26.30 L177.09,26.30 L178.60,26.30 L180.11,26.30 L181.62,26.30 L183.12,26.30 L184.63,26.30 L186.14,26.30 L187.65,26.30 L189.15,26.30 L190.66,26.30 L192.16,26.30 L193.66,26.30 L195.17,26.30 L196.67,26.30 L198.16,26.30 L199.66,26.30 L201.16,26.30 L202.65,26.30 L204.14,26.30 L205.63,26.30 L207.12,26.30 L208.60,26.30 L210.08,26.30 L211.56,26.30 L213.04,26.30 L214.51,26.30 L215.98,26.30 L217.51,26.59 L218.59,27.37 L219.38,28.78 L220.12,30.09 L220.81,31.42 L221.45,32.78 L222.03,34.16 L222.54,35.56 L223.03,36.98 L223.49,38.41 L223.97,39.83 L224.47,41.24 L224.98,42.65 L225.50,44.06 L226.03,45.46 L226.56,46.86 L227.09,48.27 L227.62,49.67 L228.15,51.07 L228.73,52.46 L229.32,53.85 L229.77,55.27 L230.04,56.72 L230.25,58.19 L230.43,59.68 L230.58,61.18 L230.74,62.68 L230.90,64.18 L231.09,65.67 L231.29,67.16 L231.49,68.64 L231.70,70.12 L231.90,71.61 L232.11,73.09 L232.31,74.58 L232.51,76.06 L232.70,77.55 L232.89,79.04 L233.08,80.52 L233.27,82.01 L233.47,83.49 L233.68,84.98 L233.91,86.46 L234.12,87.95 L234.28,89.43 L234.40,90.93 L234.50,92.42 L234.58,93.92 L234.67,95.42 L234.79,96.91 L234.99,98.39 L235.27,99.87 L235.54,101.34 L235.73,102.83 L235.85,104.32 L235.95,105.82 L236.05,107.31 L236.17,108.81 L236.29,110.30 L236.42,111.79 L236.56,113.29 L236.72,114.78 L236.90,116.26 L237.11,117.75 L237.34,119.23 L237.56,120.71 L237.75,122.20 L237.93,123.68 L238.10,125.17 L238.26,126.66 L238.42,128.15 L238.57,129.64 L238.71,131.14 L238.86,132.63 L239.02,134.12 L239.18,135.61 L239.34,137.10 L239.51,138.59 L239.69,140.07 L239.87,141.56 L240.06,143.05 L240.26,144.53 L240.47,146.02 L240.67,147.50 L240.85,148.99 L241.04,150.48 L241.28,151.95 L241.59,153.43 L241.96,154.88 L242.45,156.29 L243.03,157.68 L243.53,159.09 L243.97,160.52 L244.41,161.95 L244.87,163.38 L245.34,164.80 L245.89,166.20 L246.54,167.55 L247.14,168.92 L247.58,170.35 L247.97,171.80 L248.40,173.24 L248.86,174.67 L249.35,176.08 L249.90,177.48 L250.49,178.87 L251.15,180.20 L251.95,181.46 L252.85,182.67 L253.78,183.85 L254.74,185.02 L255.75,186.15 L256.83,187.16 L258.01,188.05 L259.29,188.86 L260.62,189.58 L261.97,190.21 L263.35,190.78 L264.76,191.30 L266.20,191.78 L267.64,192.20 L269.08,192.58 L270.53,192.94 L272.00,193.27 L273.47,193.57 L274.94,193.85 L276.42,194.11 L277.90,194.34 L279.38,194.54 L280.87,194.73 L282.36,194.90 L283.85,195.06 L285.34,195.22 L286.83,195.39 L288.32,195.57 L289.80,195.77 L291.29,195.99 L292.77,196.22 L294.25,196.46 L295.73,196.71 L297.20,196.97 L298.68,197.25 L300.15,197.53 L301.61,197.83 L303.07,198.16 L304.53,198.51 L305.98,198.88 L307.44,199.25 L308.89,199.62 L310.34,199.99 L311.80,200.36 L313.26,200.71 L314.72,201.03 L316.18,201.34 L317.65,201.64 L319.12,201.94 L320.59,202.25 L322.07,202.55 L323.54,202.85 L325.02,203.13 L326.50,203.39 L327.98,203.63 L329.46,203.84 L330.95,204.02 L332.43,204.16 L333.92,204.26 L335.41,204.35 L336.90,204.44 L338.39,204.52 L339.88,204.60 L341.37,204.67 L342.87,204.74 L344.36,204.80 L345.86,204.86 L347.36,204.92 L348.86,204.97 L350.36,205.02 L351.86,205.07 L353.36,205.11 L354.86,205.16 L356.36,205.20 L357.86,205.24 L359.36,205.28 L360.87,205.33 L362.37,205.37 L363.87,205.41 L365.37,205.45 L366.87,205.50 L368.37,205.55 L369.86,205.60 L371.36,205.64 L372.86,205.69 L374.36,205.73 L375.86,205.78 L377.35,205.82 L378.85,205.85 L380.35,205.89 L381.85,205.93 L383.35,205.97 L384.85,206.01 L386.35,206.04 L387.85,206.09 L389.34,206.13 L390.84,206.17 L392.34,206.22 L393.84,206.27 L395.33,206.33 L396.83,206.38 L398.32,206.45 L399.82,206.52 L401.32,206.60 L402.81,206.69 L404.30,206.80 L405.80,206.92 L407.29,207.04 L408.78,207.18 L410.27,207.32 L411.77,207.47 L413.26,207.62 L414.75,207.78 L416.24,207.93 L417.73,208.08 L419.23,208.23 L420.72,208.38 L422.21,208.52 L423.70,208.66 L425.19,208.80 L426.69,208.94 L428.18,209.08 L429.67,209.22 L431.16,209.37 L432.65,209.51 L434.14,209.66 L435.64,209.81 L437.13,209.95 L438.62,210.10 L440.11,210.25 L441.60,210.40" stroke="#ff00ff" stroke-dasharray="5.00,2.80,0.90,2.60"/>
<path d="M94.60,26.30 L96.10,26.30 L97.59,26.30 L99.09,26.30 L100.59,26.30 L102.09,26.30 L103.58,26.30 L105.08,26.30 L106.58,26.30 L108.07,26.30 L109.57,26.30 L111.07,26.30 L112.57,26.30 L114.06,26.30 L115.56,26.30 L117.06,26.30 L118.55,26.30 L120.05,26.30 L121.55,26.30 L123.04,26.30 L124.54,26.30 L126.04,26.30 L127.54,26.30 L129.03,26.30 L130.53,26.30 L132.03,26.30 L133.52,26.30 L135.02,26.30 L136.52,26.30 L138.02,26.30 L139.51,26.30 L141.01,26.30 L142.51,26.30 L144.00,26.30 L145.50,26.30 L147.00,26.30 L148.50,26.30 L149.99,26.30 L151.49,26.30 L152.99,26.30 L154.48,26.30 L155.98,26.30 L157.48,26.30 L158.97,26.30 L160.47,26.30 L161.97,26.30 L163.47,26.30 L164.97,26.30 L166.47,26.30 L167.97,26.30 L169.47,26.30 L170.97,26.30 L172.47,26.30 L173.97,26.30 L175.47,26.30 L176.97,26.30 L178.47,26.30 L179.97,26.30 L181.48,26.30 L182.98,26.30 L184.48,26.30 L185.98,26.30 L187.48,26.30 L188.98,26.30 L190.48,26.30 L191.98,26.30 L193.48,26.30 L194.98,26.30 L196.48,26.30 L197.98,26.30 L199.47,26.30 L200.97,26.30 L202.46,26.30 L203.96,26.30 L205.45,26.30 L206.94,26.30 L208.44,26.30 L209.93,26.30 L211.42,26.30 L212.90,26.30 L214.39,26.30 L215.88,26.30 L217.36,26.30 L218.88,26.48 L220.12,27.25 L220.76,28.56 L221.19,30.02 L221.54,31.48 L221.84,32.95 L222.14,34.42 L222.50,35.87 L222.95,37.30 L223.38,38.73 L223.71,40.19 L224.00,41.66 L224.27,43.13 L224.51,44.61 L224.74,46.09 L224.97,47.57 L225.23,49.04 L225.51,50.51 L225.80,51.98 L226.09,53.45 L226.37,54.92 L226.65,56.40 L226.93,57.87 L227.23,59.34 L227.52,60.81 L227.82,62.28 L228.12,63.75 L228.41,65.22 L228.70,66.69 L228.97,68.16 L229.24,69.64 L229.49,71.11 L229.72,72.59 L229.93,74.07 L230.11,75.55 L230.28,77.03 L230.43,78.52 L230.57,80.01 L230.69,81.50 L230.82,82.99 L230.93,84.48 L231.04,85.98 L231.15,87.47 L231.25,88.97 L231.35,90.46 L231.45,91.96 L231.56,93.45 L231.67,94.95 L231.78,96.44 L231.89,97.93 L231.99,99.43 L232.10,100.92 L232.21,102.41 L232.31,103.91 L232.42,105.40 L232.52,106.89 L232.62,108.39 L232.73,109.88 L232.83,111.37 L232.94,112.87 L233.05,114.36 L233.15,115.85 L233.26,117.35 L233.37,118.84 L233.48,120.33 L233.59,121.83 L233.70,123.32 L233.81,124.81 L233.92,126.30 L234.03,127.80 L234.14,129.29 L234.26,130.78 L234.37,132.28 L234.48,133.77 L234.59,135.26 L234.71,136.75 L234.82,138.25 L234.93,139.74 L235.05,141.23 L235.16,142.73 L235.27,144.22 L235.38,145.71 L235.50,147.20 L235.61,148.70 L235.73,150.19 L235.84,151.68 L235.96,153.17 L236.08,154.67 L236.20,156.16 L236.32,157.65 L236.44,159.14 L236.56,160.64 L236.69,162.13 L236.82,163.62 L236.95,165.11 L237.08,166.60 L237.22,168.09 L237.35,169.58 L237.48,171.08 L237.62,172.57 L237.75,174.06 L237.88,175.55 L238.01,177.04 L238.13,178.53 L238.25,180.03 L238.36,181.52 L238.46,183.02 L238.55,184.51 L238.64,186.01 L238.73,187.51 L238.83,189.01 L238.93,190.50 L239.03,192.00 L239.15,193.49 L239.29,194.97 L239.44,196.45 L239.62,197.93 L239.87,199.40 L240.17,200.87 L240.50,202.33 L240.85,203.79 L241.21,205.25 L241.55,206.71 L241.86,208.18 L242.14,209.65 L242.41,211.12 L242.69,212.59 L242.98,214.06 L243.30,215.52 L243.66,216.97 L244.06,218.42 L244.44,219.87 L244.80,221.32 L245.11,222.78 L245.41,224.25 L245.71,225.72 L246.03,227.18 L246.36,228.64 L246.71,230.10 L247.08,231.56 L247.50,232.99 L247.99,234.39 L248.57,235.78 L249.21,237.14 L249.89,238.47 L250.61,239.79 L251.39,241.08 L252.22,242.33 L253.09,243.53 L254.03,244.74 L255.04,245.89 L256.13,246.87 L257.35,247.64 L258.71,248.29 L260.12,248.89 L261.49,249.49 L262.87,250.07 L264.27,250.62 L265.67,251.15 L267.08,251.65 L268.49,252.15 L269.90,252.64 L271.31,253.15 L272.72,253.66 L274.13,254.17 L275.55,254.65 L276.98,255.08 L278.42,255.47 L279.87,255.83 L281.33,256.18 L282.79,256.52 L284.25,256.87 L285.70,257.22 L287.16,257.58 L288.61,257.93 L290.07,258.28 L291.52,258.64 L292.98,259.00 L294.43,259.37 L295.87,259.75 L297.32,260.14 L298.76,260.54 L300.20,260.95 L301.64,261.37 L303.08,261.78 L304.51,262.21 L305.95,262.63 L307.38,263.06 L308.82,263.48 L310.26,263.91 L311.69,264.33 L313.13,264.75 L314.56,265.17 L316.00,265.60" stroke="#000000" stroke-dasharray="1.70,0.80,1.70,2.23"/>
</g>
<g fill="none" stroke-width="1.3">
<path d="M205.1,154.45 H243.3" stroke="#00ff00" stroke-dasharray="10.40,5.03"/>
<path d="M205.1,168.57 H243.3" stroke="#0000ff" stroke-dasharray="5.30,7.56"/>
<path d="M205.1,182.69 H243.3" stroke="#ff0000"/>
<path d="M205.1,196.81 H243.3" stroke="#ff4d00" stroke-dasharray="5.30,2.60,1.10,2.20,1.10,1.75"/>
<path d="M205.1,210.93 H243.3" stroke="#808080" stroke-dasharray="4.90,2.90,4.90,2.80,1.30,2.60,1.30,2.60,1.30,2.50"/>
<path d="M205.1,225.05 H243.3" stroke="#ff00ff" stroke-dasharray="4.10,2.33"/>
<path d="M205.1,239.17 H243.3" stroke="#ff00ff" stroke-dasharray="5.00,2.80,0.90,2.60"/>
<path d="M205.1,253.29 H243.3" stroke="#000000" stroke-dasharray="1.70,0.80,1.70,2.23"/>
</g>
<g font-size="14.15" text-anchor="end">
<text x="196.6" y="159.45">2H-Q2M135</text>
<text x="196.6" y="173.57">H-Q2M135</text>
<text x="196.6" y="187.69">HB-Q2M135</text>
<text x="196.6" y="201.81">HBs-Q2M135</text>
<text x="196.6" y="215.93">HBss-Q2M135</text>
<text x="196.6" y="230.05">B-Q2M135</text>
<text x="196.6" y="244.17">Bs-Q2M135</text>
<text x="196.6" y="258.29">Bss-Q2M135</text>
</g>
<g stroke="#000" stroke-width="1" fill="none">
<rect stroke-width="0.95" x="94.7" y="16.97" width="346.95" height="247.48"/>
<path stroke-width="0.7" d="M138.37,264.45 v-4.55 M138.37,16.87 v4.2 M181.74,264.45 v-4.55 M181.74,16.87 v4.2 M225.11,264.45 v-4.55 M225.11,16.87 v4.2 M268.48,264.45 v-4.55 M268.48,16.87 v4.2 M311.84,264.45 v-4.55 M311.84,16.87 v4.2 M355.21,264.45 v-4.55 M355.21,16.87 v4.2 M398.58,264.45 v-4.55 M398.58,16.87 v4.2 M94.7,241.87 h2.3 M441.65,241.87 h-2.3 M94.7,228.67 h2.3 M441.65,228.67 h-2.3 M94.7,219.29 h2.3 M441.65,219.29 h-2.3 M94.7,212.03 h2.3 M441.65,212.03 h-2.3 M94.7,206.09 h2.3 M441.65,206.09 h-2.3 M94.7,201.07 h2.3 M441.65,201.07 h-2.3 M94.7,196.72 h2.3 M441.65,196.72 h-2.3 M94.7,192.88 h2.3 M441.65,192.88 h-2.3 M94.7,189.45 h4.55 M441.65,189.45 h-4.55 M94.7,166.87 h2.3 M441.65,166.87 h-2.3 M94.7,153.66 h2.3 M441.65,153.66 h-2.3 M94.7,144.29 h2.3 M441.65,144.29 h-2.3 M94.7,137.03 h2.3 M441.65,137.03 h-2.3 M94.7,131.09 h2.3 M441.65,131.09 h-2.3 M94.7,126.07 h2.3 M441.65,126.07 h-2.3 M94.7,121.72 h2.3 M441.65,121.72 h-2.3 M94.7,117.88 h2.3 M441.65,117.88 h-2.3 M94.7,114.45 h4.55 M441.65,114.45 h-4.55 M94.7,91.87 h2.3 M441.65,91.87 h-2.3 M94.7,78.66 h2.3 M441.65,78.66 h-2.3 M94.7,69.29 h2.3 M441.65,69.29 h-2.3 M94.7,62.03 h2.3 M441.65,62.03 h-2.3 M94.7,56.09 h2.3 M441.65,56.09 h-2.3 M94.7,51.07 h2.3 M441.65,51.07 h-2.3 M94.7,46.72 h2.3 M441.65,46.72 h-2.3 M94.7,42.88 h2.3 M441.65,42.88 h-2.3 M94.7,39.45 h4.55 M441.65,39.45 h-4.55"/>
</g>
<g font-size="14.15" text-anchor="middle">
<text x="97.00" y="283.3">-6</text>
<text x="140.37" y="283.3">-4</text>
<text x="183.74" y="283.3">-2</text>
<text x="227.11" y="283.3">0</text>
<text x="270.48" y="283.3">2</text>
<text x="313.84" y="283.3">4</text>
<text x="357.21" y="283.3">6</text>
<text x="400.58" y="283.3">8</text>
<text x="443.95" y="283.3">10</text>
</g>
<g font-size="14.15" text-anchor="end">
<text x="86.3" y="44.45">1</text>
<text x="86.3" y="119.45">0.1</text>
<text x="86.3" y="194.45">0.01</text>
<text x="86.3" y="269.45">0.001</text>
</g>
<text x="228.5" y="303.7" font-size="14.15">t-t<tspan font-size="11.3" dy="3.9">merger</tspan><tspan dy="-3.9"> (ms)</tspan></text>
<text transform="translate(21.7,175) rotate(-90)" font-size="14.15">M<tspan font-size="11.2" dy="4.4">r&gt;r</tspan><tspan font-size="9.9" dy="4.2" dx="-0.5">AH</tspan><tspan dy="-8.6" dx="-0.6"> [Mo]</tspan></text>
</svg></body></html>
